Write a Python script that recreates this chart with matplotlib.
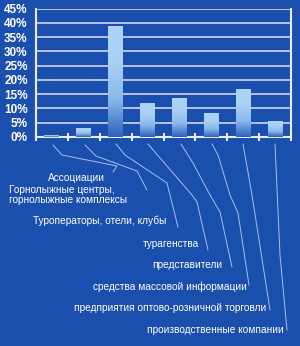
import numpy as np
import matplotlib.pyplot as plt
from matplotlib.colors import LinearSegmentedColormap

# доли по категориям, %
categories = [
    'Ассоциации',
    'Горнолыжные центры,\nгорнолыжные комплексы',
    'Туроператоры, отели, клубы',
    'турагенства',
    'представители',
    'средства массовой информации',
    'предприятия оптово-розничной торговли',
    'производственные компании',
]
values = [0.8, 3.3, 39, 12, 13.8, 8.5, 16.8, 5.7]
yticks = [0, 5, 10, 15, 20, 25, 30, 35, 40, 45]
ytick_labels = ['0%', '5%', '10%', '15%', '20%', '25%', '30%', '35%', '40%', '45%']

bg = '#1b4fae'
W, H = 300, 346

plt.rcParams['font.family'] = ['Liberation Sans', 'DejaVu Sans']

fig = plt.figure(figsize=(W / 100, H / 100), dpi=100)
fig.patch.set_facecolor(bg)
ax = fig.add_axes([36 / W, 1 - 137 / H, 255 / W, 128.5 / H])
ax.set_facecolor(bg)

x = np.arange(len(values))
bars = ax.bar(x, values, width=0.47, color='none', zorder=3)

# градиентная заливка столбцов
cmap = LinearSegmentedColormap.from_list('g', ['#2f62bc', '#8ab8ea', '#aad0f5', '#aed3f6'])
grad = np.linspace(0, 1, 100).reshape(-1, 1)
for b in bars:
    im = ax.imshow(grad, cmap=cmap, origin='lower', aspect='auto',
                   extent=(b.get_x(), b.get_x() + b.get_width(), 0, b.get_height()),
                   zorder=3)
    im.set_clip_path(b)

ax.set_xlim(-0.5, len(values) - 0.5)
ax.set_ylim(0, 45)
ax.set_yticks(yticks)
ax.set_yticklabels(ytick_labels)
ax.set_xticks(np.arange(len(values) + 1) - 0.5)
ax.set_xticklabels([])
ax.grid(axis='y', color='#c4ccf0', lw=1.3, zorder=1)
ax.tick_params(axis='y', length=0, pad=6, labelcolor='white', labelsize=8.5)
ax.tick_params(axis='x', direction='inout', length=6, width=1.5, color='#e8ecff')
for lbl in ax.get_yticklabels():
    lbl.set_fontweight('bold')
for s in ['left', 'bottom', 'right']:
    ax.spines[s].set_color('#e8ecff')
    ax.spines[s].set_linewidth(1.5)
ax.spines['top'].set_visible(False)

# выноски (в пикселях рисунка)
leaders = [
    [(53, 145), (62, 155), (117, 166), (113, 172)],
    [(85, 145), (96, 156), (137, 171), (147, 190)],
    [(116, 144), (125, 155), (167, 183), (178, 227)],
    [(148, 144), (192, 195), (197, 202), (208, 250)],
    [(181, 144), (193, 163), (210, 195), (220, 212), (232, 267)],
    [(212, 144), (218, 155), (230, 195), (238, 213), (249, 285)],
    [(243, 144), (252, 195), (270, 310)],
    [(275, 144), (280, 255), (287, 330)],
]
for pts in leaders:
    px = [p[0] / W for p in pts]
    py = [1 - p[1] / H for p in pts]
    fig.add_artist(plt.Line2D(px, py, transform=fig.transFigure,
                              color='#aabdf0', lw=0.7))

label_pos = [
    (76, 178, 'center'),
    (9, 195, 'left'),
    (33, 221, 'left'),
    (143, 244, 'left'),
    (152, 265, 'left'),
    (93, 287, 'left'),
    (74, 308, 'left'),
    (147, 330, 'left'),
]
for name, (lx, ly, ha) in zip(categories, label_pos):
    fig.text(lx / W, 1 - ly / H, name, ha=ha, va='center', color='white',
             fontsize=7.3, linespacing=1.05)

fig.savefig('out.png', dpi=100, facecolor=bg)
